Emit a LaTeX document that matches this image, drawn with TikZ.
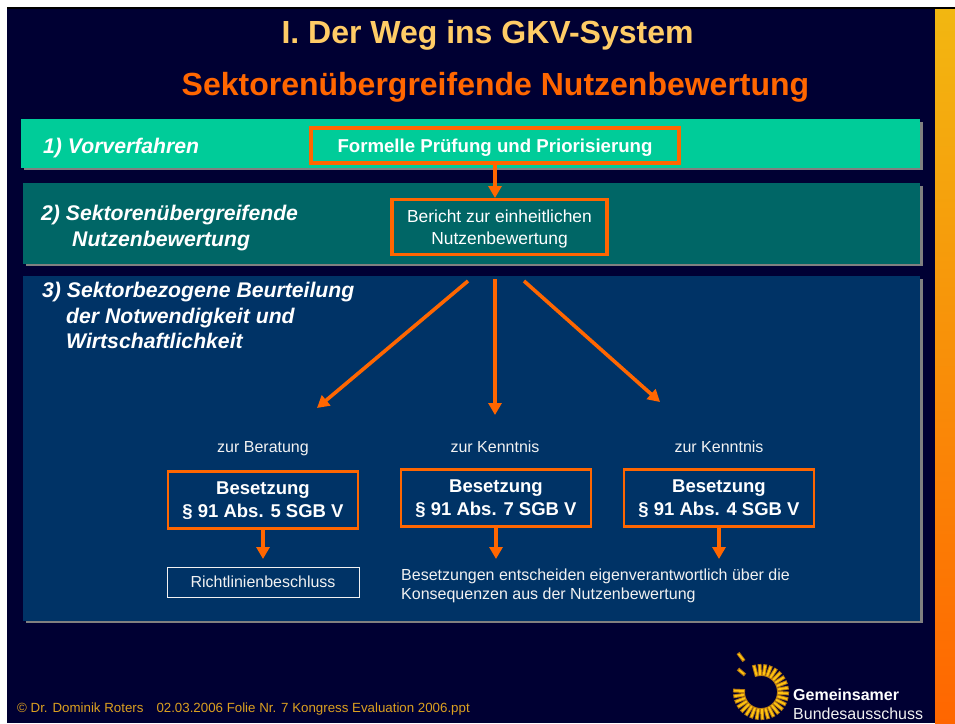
\documentclass[tikz,border=0pt]{standalone}
\usepackage{fontspec}
\setmainfont{Liberation Sans}
\usetikzlibrary{arrows.meta}
\definecolor{slidebg}{HTML}{000033}
\definecolor{bandone}{HTML}{00CC99}
\definecolor{bandtwo}{HTML}{006666}
\definecolor{bandthree}{HTML}{003366}
\definecolor{accent}{HTML}{FF6600}
\definecolor{titleyellow}{HTML}{FFCC66}
\definecolor{bartop}{HTML}{F2B711}
\definecolor{lighttext}{HTML}{F2F2F2}
\definecolor{barshadow}{HTML}{808080}
\definecolor{footertext}{HTML}{DCA020}
\definecolor{logodark}{HTML}{B87A10}
\definecolor{logolight}{HTML}{FFC410}
\tikzset{
	bandlabel/.style={anchor=west, align=left, text=white, font=\fontsize{21.2}{25.5}\selectfont\bfseries\itshape, inner sep=0pt},
	orangebox/.style={draw=accent, line width=3.6pt, anchor=center, inner sep=0pt, align=center, text=white, text depth=0pt},
	plaintext/.style={text=lighttext, font=\fontsize{16}{19}\selectfont, inner sep=0pt},
	flow/.style={draw=accent, line width=3.6pt, -{Triangle[length=12pt,width=13pt]}},
}
\begin{document}
\begin{tikzpicture}[x=1pt,y=-1pt]
	\useasboundingbox (0,0) rectangle (955,723);
	\fill[white] (0,0) rectangle (955,723);
	\fill[black] (7,7) rectangle (955,723);
	\fill[slidebg] (7,9) rectangle (935,723);
	\shade[top color=bartop, bottom color=accent] (935,9) rectangle (955,723);
	% titles
	\node[text=titleyellow, font=\fontsize{32}{36}\selectfont\bfseries] (title) at (487.5,35) {I. Der Weg ins GKV-System};
	\node[text=accent, font=\fontsize{32}{36}\selectfont\bfseries] (subtitle) at (495.5,87) {Sektorenübergreifende Nutzenbewertung};
	% bands
	\fill[barshadow] (24,122) rectangle (923,170);
	\fill[bandone] (21,119) rectangle (920,168);
	\fill[barshadow] (26,186) rectangle (923,266);
	\fill[bandtwo] (23,183) rectangle (920,264);
	\fill[barshadow] (26,279) rectangle (923,623);
	\fill[bandthree] (23,276) rectangle (920,621);
	\node[bandlabel] (vorverfahren) at (43,148) {1) Vorverfahren};
	\node[bandlabel, anchor=north west] (nutzen) at (41,205) {2) Sektorenübergreifende\\\hspace*{31pt}Nutzenbewertung};
	\node[bandlabel, anchor=north west] (sektor) at (42,282) {3) Sektorbezogene Beurteilung\\\hspace*{24pt}der Notwendigkeit und\\\hspace*{24pt}Wirtschaftlichkeit};
	% boxes
	\node[orangebox, minimum width=368pt, minimum height=35pt, font=\fontsize{18.65}{22}\selectfont\bfseries] (formell) at (495,145.5) {Formelle Prüfung und Priorisierung};
	\node[orangebox, minimum width=215pt, minimum height=55pt, font=\fontsize{17.4}{21.5}\selectfont] (bericht) at (499.5,227) {Bericht zur einheitlichen\\Nutzenbewertung};
	\coordinate (berichttop) at (495,198);
	\draw[flow] (formell.south -| berichttop) -- (berichttop);
	\coordinate (startleft) at (468,281);
	\coordinate (startmid) at (495,279);
	\coordinate (startright) at (524,281);
	\coordinate (endleft) at (317,408);
	\coordinate (endmid) at (495,415);
	\coordinate (endright) at (660,402);
	\draw[flow] (startleft) -- (endleft);
	\draw[flow] (startmid) -- (endmid);
	\draw[flow] (startright) -- (endright);
	\node[plaintext] (beratung) at (263,449) {zur Beratung};
	\node[plaintext] (kenntnisa) at (495,447) {zur Kenntnis};
	\node[plaintext] (kenntnisb) at (719,447) {zur Kenntnis};
	\tikzset{besetzung/.style={orangebox, line width=2.6pt, minimum width=190pt, minimum height=57pt, font=\fontsize{18.5}{23}\selectfont\bfseries}}
	\node[besetzung] (absfive) at (263,500) {Besetzung\\§ 91 Abs. 5 SGB V};
	\node[besetzung] (absseven) at (496,498) {Besetzung\\§ 91 Abs. 7 SGB V};
	\node[besetzung] (absfour) at (719,498) {Besetzung\\§ 91 Abs. 4 SGB V};
	\node[draw=lighttext, line width=0.8pt, minimum width=192pt, minimum height=30pt, inner sep=0pt, text=lighttext, font=\fontsize{16}{18}\selectfont] (richtlinie) at (263,582) {Richtlinienbeschluss};
	\node[plaintext, anchor=north west, align=left] (konsequenz) at (401,569) {Besetzungen entscheiden eigenverantwortlich über die\\Konsequenzen aus der Nutzenbewertung};
	\coordinate (endfour) at (719,559);
	\coordinate (endseven) at (496,559);
	\coordinate (endfive) at (263,559);
	\draw[flow] (absfive) -- (endfive);
	\draw[flow] (absseven) -- (endseven);
	\draw[flow] (absfour) -- (endfour);
	% footer
	\node[anchor=west, inner sep=0pt, text=footertext, font=\fontsize{13.3}{15}\selectfont] (footer) at (17,709) {© Dr. Dominik Roters\hspace{13pt}02.03.2006 Folie Nr. 7 Kongress Evaluation 2006.ppt};
	\node[anchor=west, inner sep=0pt, text=white, font=\fontsize{16}{18}\selectfont\bfseries] (gemeinsamer) at (793,695) {Gemeinsamer};
	\node[anchor=west, inner sep=0pt, text=lighttext, font=\fontsize{16}{18}\selectfont] (ausschuss) at (793,714) {Bundesausschuss};
	% logo
	\foreach \a in {-105,-93,...,190} {
		\draw[logodark, line width=3.8pt] (761,692) ++(\a:16) -- ++(\a:12);
		\draw[logolight, line width=1.8pt] (761,692) ++(\a:17) -- ++(\a:10);
	}
	\draw[logodark, line width=3.6pt] (738,653) -- (744,661);
	\draw[logolight, line width=1.6pt] (738.5,654) -- (743.5,660);
	\draw[logodark, line width=3.6pt] (738,669) -- (745,675);
	\draw[logolight, line width=1.6pt] (739,670) -- (744,674);
\end{tikzpicture}
\end{document}
